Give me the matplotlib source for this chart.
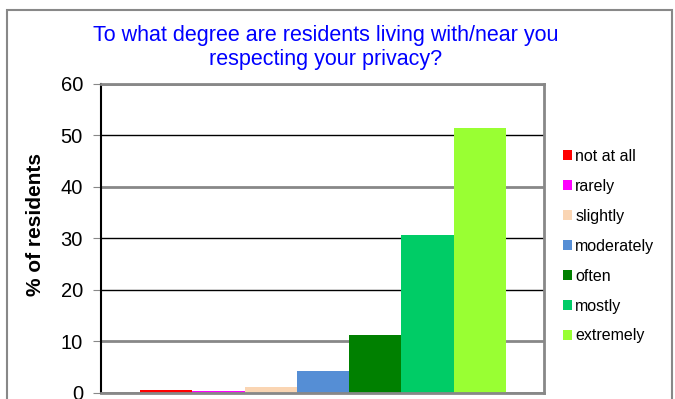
import matplotlib.pyplot as plt
from matplotlib.patches import Rectangle, Patch

plt.rcParams['font.family'] = ['Liberation Sans', 'DejaVu Sans']

# ---------------- Data ----------------
answers = ["not at all", "rarely", "slightly", "moderately", "often", "mostly", "extremely"]
percent = [0.5, 0.35, 1.1, 4.2, 11.2, 30.6, 51.5]
colors = ["#FF0000", "#FF00FF", "#FAD5B3", "#558ED5", "#008000", "#00CC66", "#99FF33"]

yticks = [0, 10, 20, 30, 40, 50, 60]
grid_colors = ["#888888", "#888888", "#000000", "#000000", "#888888", "#000000", "#888888"]

# ---------------- Plot ----------------
fig = plt.figure(figsize=(6.75, 3.99), dpi=100)
ax = fig.add_axes([0.1496, 0.0158, 0.806 - 0.1496, 0.7895 - 0.0158])

for y, c in zip(yticks, grid_colors):
    lw = 2.0 if c == "#888888" else 1.0
    ax.axhline(y, color=c, lw=lw, zorder=1)

xs = list(range(len(answers)))
ax.bar(xs, percent, width=1.0, color=colors, zorder=2)

ax.set_xlim(-1.25, 7.23)
ax.set_ylim(0, 60)
ax.set_xticks([])
ax.set_yticks(yticks)
ax.tick_params(axis='y', labelsize=14.5, length=6, color="#888888", pad=7)
ax.set_ylabel("% of residents", fontsize=15, fontweight='bold')
ax.yaxis.set_label_coords(-0.127, 0.545)

for side in ["top", "bottom", "right"]:
    ax.spines[side].set_color("#888888")
    ax.spines[side].set_linewidth(2.0)
ax.spines["left"].set_color("#000000")
ax.spines["left"].set_linewidth(1.5)

fig.text(0.483, 0.88, "To what degree are residents living with/near you\nrespecting your privacy?",
         ha='center', va='center', color="#0000FF", fontsize=15.5, linespacing=1.2)

handles = [Patch(facecolor=c, edgecolor='none') for c in colors]
fig.legend(handles, answers, loc='upper left', bbox_to_anchor=(0.825, 0.643),
           frameon=False, fontsize=11.5, handlelength=0.55, handleheight=0.55,
           handletextpad=0.2, labelspacing=0.935, borderaxespad=0)

fig.patches.append(Rectangle((7 / 675, -0.05), 665 / 675, 1 - 10 / 399 + 0.05,
                             transform=fig.transFigure, fill=False,
                             edgecolor="#888888", lw=1.5))

fig.savefig("out.png", dpi=100)
